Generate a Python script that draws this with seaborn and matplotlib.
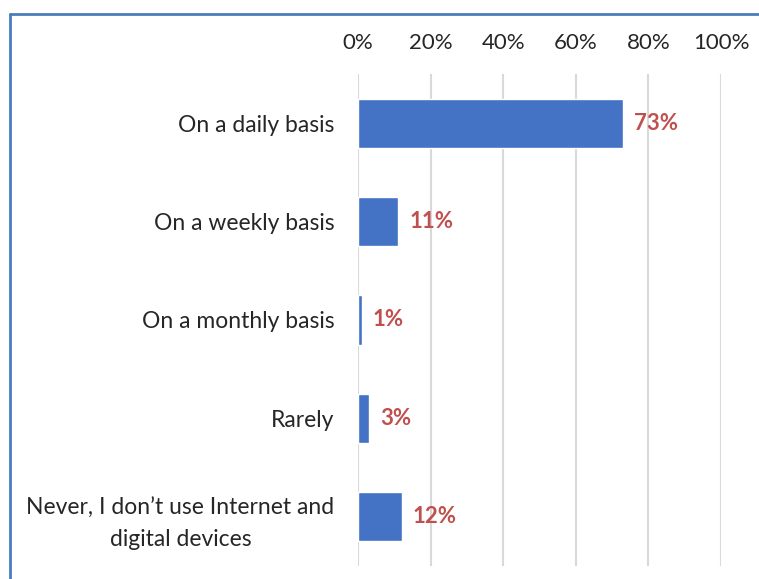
import matplotlib
matplotlib.use("Agg")
import matplotlib.pyplot as plt
from matplotlib.lines import Line2D
import pandas as pd
import seaborn as sns

categories = [
    "On a daily basis",
    "On a weekly basis",
    "On a monthly basis",
    "Rarely",
    "Never, I don\u2019t use Internet and\ndigital devices",
]
shares = [73, 11, 1, 3, 12]
tick_values = [0, 20, 40, 60, 80, 100]
tick_labels = [f"{v}%" for v in tick_values]

df = pd.DataFrame({"category": categories, "share": shares})

sns.set_theme(style="white")
plt.rcParams["font.family"] = ["Lato", "DejaVu Sans"]

fig = plt.figure(figsize=(7.59, 5.79), dpi=100)
ax = fig.add_axes([358 / 759, 1 - 566 / 579, 363 / 759, 492 / 579])

sns.barplot(data=df, x="share", y="category", orient="h", color="#4472C4",
            saturation=1, width=0.5, ax=ax, zorder=3)

ax.set_xlim(0, 100)
ax.set_ylim(4.5, -0.5)
ax.set_xticks(tick_values)
ax.set_xticklabels(tick_labels, fontsize=16, color="#262626")
ax.xaxis.tick_top()
ax.tick_params(axis="x", length=0, pad=15)
ax.tick_params(axis="y", length=0, pad=17)
for lbl in ax.get_yticklabels():
    lbl.set_fontsize(16.5)
    lbl.set_color("#262626")
    lbl.set_multialignment("center")
    lbl.set_linespacing(1.6)
ax.set_xlabel("")
ax.set_ylabel("")
ax.grid(axis="x", color="#D9D9D9", linewidth=1.5, zorder=0)
ax.grid(axis="y", visible=False)
for s in ax.spines.values():
    s.set_visible(False)

for i, v in enumerate(shares):
    ax.annotate(f"{v}%", xy=(v, i), xytext=(8, 0), textcoords="offset points",
                va="center", ha="left", fontsize=16, fontweight="bold",
                color="#C0504D")

# outer frame lines (top and left edges)
border = "#4A7EBB"
fig.add_artist(Line2D([10 / 759, 1.0], [1 - 14 / 579, 1 - 14 / 579],
                      transform=fig.transFigure, color=border, linewidth=2))
fig.add_artist(Line2D([10 / 759, 10 / 759], [0, 1 - 14 / 579],
                      transform=fig.transFigure, color=border, linewidth=2))

fig.savefig("out.png", dpi=100)
